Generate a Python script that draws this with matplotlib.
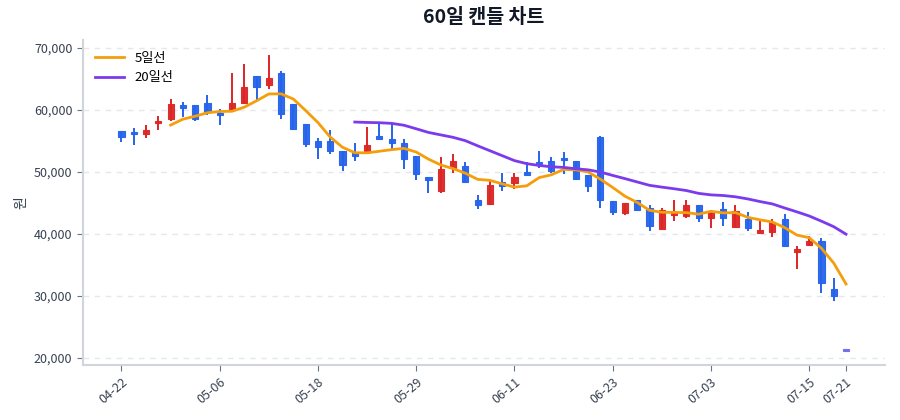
import numpy as np
import pandas as pd
import matplotlib
matplotlib.use('Agg')
import matplotlib.pyplot as plt
from matplotlib.ticker import FuncFormatter

plt.rcParams['font.family'] = ['Noto Sans CJK KR', 'DejaVu Sans']

# OHLC (60 trading days)
opens = [56600, 56500, 56200, 57900, 58500, 60650, 60800, 61050, 59500, 60000,
         61200, 65500, 64100, 66000, 60950, 57700, 55000, 55000, 53400, 53050,
         53400, 55800, 55250, 54750, 52600, 49250, 47000, 50700, 50950, 45450,
         44900, 48350, 48300, 50050, 51600, 51750, 52200, 51750, 49450, 55650,
         45300, 43400, 45400, 44200, 40850, 43150, 42900, 44750, 42600, 44050,
         41150, 42450, 40100, 40300, 42450, 37050, 38300, 38800, 31100, 21250]
highs = [56600, 57150, 57600, 59000, 61750, 61300, 60800, 62450, 60150, 65900,
         67400, 65500, 68900, 66300, 61000, 57700, 55550, 56800, 53400, 54600,
         57250, 57800, 57700, 55300, 52600, 49250, 52400, 52850, 51650, 46350,
         48650, 49900, 49800, 51600, 53400, 52400, 53300, 51750, 49450, 55800,
         45300, 44950, 45400, 44650, 44200, 45550, 45550, 44750, 43650, 45100,
         44750, 43550, 42150, 42350, 43150, 38100, 39650, 39350, 32900, 21250]
lows = [54900, 54300, 55550, 56700, 58200, 58900, 58200, 59250, 57550, 60000,
        61200, 61650, 63400, 58500, 56800, 53950, 52150, 52950, 50150, 51750,
        53400, 55250, 53650, 50550, 48700, 46650, 46650, 49900, 48450, 43950,
        44600, 47000, 47200, 49450, 50700, 49900, 49600, 48900, 46750, 44200,
        43000, 43000, 43850, 40450, 40850, 42050, 42600, 41900, 41000, 41250,
        41150, 40550, 40100, 39500, 38100, 34350, 38100, 30450, 29200, 21050]
closes = [55700, 56100, 56800, 58200, 61000, 60450, 58500, 59600, 59200, 61200,
          63750, 63650, 65100, 59300, 57000, 54450, 53950, 53400, 51100, 52600,
          54350, 55250, 54700, 52150, 49600, 48650, 50550, 51750, 48450, 44650,
          47850, 47700, 49150, 49450, 51250, 50150, 52000, 48900, 47700, 45400,
          43500, 44950, 43850, 41350, 43850, 43400, 44750, 42600, 43650, 42600,
          43650, 40900, 40600, 41900, 38100, 37600, 38800, 32050, 29950, 21250]
tick_idx = [0, 8, 16, 24, 32, 40, 48, 56, 59]
tick_labels = ['04-22', '05-06', '05-18', '05-29', '06-11', '06-23', '07-03', '07-15', '07-21']

UP = '#dc2626'
DOWN = '#2563eb'
FLAT = '#6d6df2'

s = pd.Series(closes, dtype=float)
ma5 = s.rolling(5).mean()
ma20 = s.rolling(20).mean()
x = np.arange(len(closes))

fig, ax = plt.subplots(figsize=(9, 4.2), dpi=100)
fig.subplots_adjust(left=0.092, right=0.983, top=0.905, bottom=0.13)

for i in x:
    o, h, l, c = opens[i], highs[i], lows[i], closes[i]
    if c > o:
        col = UP
    elif c < o:
        col = DOWN
    else:
        col = FLAT
    if h > l:
        ax.vlines(i, l, h, color=col, linewidth=1.4, zorder=2)
    body = max(abs(c - o), 400)
    ax.bar(i, body, bottom=min(o, c) - (body - abs(c - o)) / 2, width=0.5, color=col,
           edgecolor=col, linewidth=0.8, alpha=0.95, zorder=3)

ax.plot(x, ma5, color='#f59e0b', linewidth=2, label='5일선', zorder=4)
ax.plot(x, ma20, color='#7c3aed', linewidth=2, label='20일선', zorder=4)

ax.set_xlim(-3.15, 62.15)
ax.set_ylim(18800, 71300)
ax.set_yticks([20000, 30000, 40000, 50000, 60000, 70000])
ax.yaxis.set_major_formatter(FuncFormatter(lambda v, p: '{:,.0f}'.format(v)))
ax.set_xticks(tick_idx)
ax.set_xticklabels(tick_labels, rotation=40, ha='right', rotation_mode='anchor')

ax.grid(axis='y', linestyle=(0, (4, 4)), color='#e5e7eb', linewidth=1)
ax.set_axisbelow(True)
ax.spines['top'].set_visible(False)
ax.spines['right'].set_visible(False)
ax.spines['left'].set_color('#d1d5db')
ax.spines['bottom'].set_color('#d1d5db')
ax.spines['left'].set_linewidth(1.5)
ax.spines['bottom'].set_linewidth(1.5)
ax.tick_params(colors='#6b7280', labelcolor='#374151', labelsize=9, length=4)

ax.set_ylabel('원', color='#374151', fontsize=10)
ax.set_title('60일 캔들 차트', fontsize=14, fontweight='bold', color='#111827', pad=12)
ax.legend(loc='upper left', frameon=False, fontsize=9.5, handlelength=2.2)

plt.savefig('out.png', dpi=100)
